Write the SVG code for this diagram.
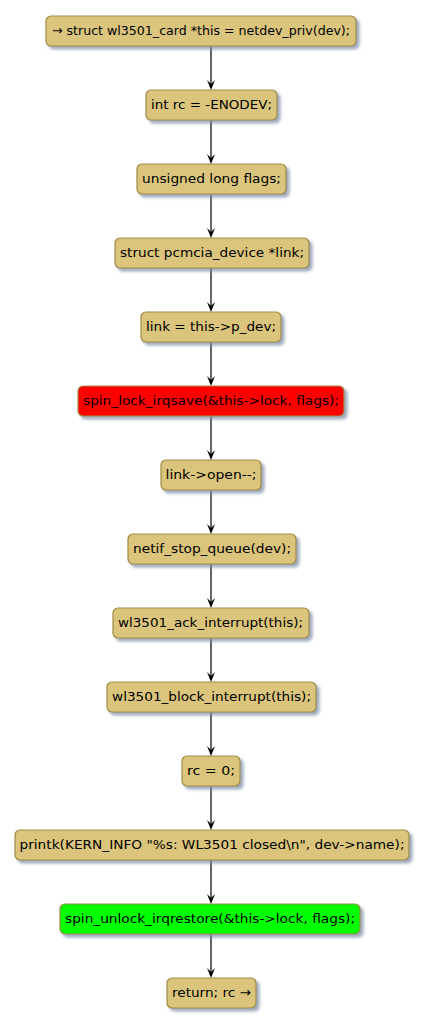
<svg xmlns="http://www.w3.org/2000/svg" width="426" height="1025" viewBox="0 0 426 1025">
<defs>
<filter id="sh" x="-10%" y="-30%" width="130%" height="180%">
<feGaussianBlur in="SourceAlpha" stdDeviation="1.5"/>
<feOffset dx="3" dy="3" result="b"/>
<feFlood flood-color="#7f8fa8" flood-opacity="0.75"/>
<feComposite in2="b" operator="in"/>
<feMerge><feMergeNode/><feMergeNode in="SourceGraphic"/></feMerge>
</filter>
<style>
.n rect{fill:#DBC57C;stroke:#A08B45;stroke-width:1.2;filter:url(#sh)}
.n.red rect{fill:#FF0000}
.n.green rect{fill:#00FF00}
.n text{font-family:"DejaVu Sans",sans-serif;font-size:13px;fill:#000;text-anchor:middle}
.e line{stroke:#000;stroke-width:1.2}
.e polygon{fill:#000}
</style>
</defs>
<rect width="426" height="1025" fill="#fff"/>
<g class="e" id="connectors">
<line x1="211" y1="46" x2="211" y2="88"/><polygon points="207,80 211,90 215,80 211,84"/>
<line x1="211" y1="120" x2="211" y2="162"/><polygon points="207,154 211,164 215,154 211,158"/>
<line x1="211" y1="194" x2="211" y2="236"/><polygon points="207,228 211,238 215,228 211,232"/>
<line x1="211" y1="268" x2="211" y2="310"/><polygon points="207,302 211,312 215,302 211,306"/>
<line x1="211" y1="342" x2="211" y2="384"/><polygon points="207,376 211,386 215,376 211,380"/>
<line x1="211" y1="416" x2="211" y2="458"/><polygon points="207,450 211,460 215,450 211,454"/>
<line x1="211" y1="490" x2="211" y2="532"/><polygon points="207,524 211,534 215,524 211,528"/>
<line x1="211" y1="564" x2="211" y2="606"/><polygon points="207,598 211,608 215,598 211,602"/>
<line x1="211" y1="638" x2="211" y2="680"/><polygon points="207,672 211,682 215,672 211,676"/>
<line x1="211" y1="712" x2="211" y2="754"/><polygon points="207,746 211,756 215,746 211,750"/>
<line x1="211" y1="786" x2="211" y2="828"/><polygon points="207,820 211,830 215,820 211,824"/>
<line x1="211" y1="860" x2="211" y2="902"/><polygon points="207,894 211,904 215,894 211,898"/>
<line x1="211" y1="934" x2="211" y2="976"/><polygon points="207,968 211,978 215,968 211,972"/>
</g>
<g class="n" id="n1"><rect x="46" y="16" width="310" height="30" rx="5"/><text x="201" y="35" textLength="298" lengthAdjust="spacingAndGlyphs">→ struct wl3501_card *this = netdev_priv(dev);</text></g>
<g class="n" id="n2"><rect x="146" y="90" width="131" height="30" rx="5"/><text x="211.5" y="109" textLength="121" lengthAdjust="spacingAndGlyphs">int rc = -ENODEV;</text></g>
<g class="n" id="n3"><rect x="137" y="164" width="149" height="30" rx="5"/><text x="211.5" y="183" textLength="139" lengthAdjust="spacingAndGlyphs">unsigned long flags;</text></g>
<g class="n" id="n4"><rect x="115" y="238" width="194" height="30" rx="5"/><text x="212" y="257" textLength="184" lengthAdjust="spacingAndGlyphs">struct pcmcia_device *link;</text></g>
<g class="n" id="n5"><rect x="141" y="312" width="140" height="30" rx="5"/><text x="211" y="331" textLength="130" lengthAdjust="spacingAndGlyphs">link = this-&gt;p_dev;</text></g>
<g class="n red" id="n6"><rect x="78" y="386" width="266" height="30" rx="5"/><text x="211" y="405" textLength="256" lengthAdjust="spacingAndGlyphs">spin_lock_irqsave(&amp;this-&gt;lock, flags);</text></g>
<g class="n" id="n7"><rect x="161" y="460" width="100" height="30" rx="5"/><text x="211" y="479" textLength="91" lengthAdjust="spacingAndGlyphs">link-&gt;open--;</text></g>
<g class="n" id="n8"><rect x="128" y="534" width="168" height="30" rx="5"/><text x="212" y="553" textLength="158" lengthAdjust="spacingAndGlyphs">netif_stop_queue(dev);</text></g>
<g class="n" id="n9"><rect x="113" y="608" width="196" height="30" rx="5"/><text x="210.5" y="627" textLength="185" lengthAdjust="spacingAndGlyphs">wl3501_ack_interrupt(this);</text></g>
<g class="n" id="n10"><rect x="107" y="682" width="209" height="30" rx="5"/><text x="211.5" y="701" textLength="199" lengthAdjust="spacingAndGlyphs">wl3501_block_interrupt(this);</text></g>
<g class="n" id="n11"><rect x="182" y="756" width="58" height="30" rx="5"/><text x="211" y="775" textLength="48" lengthAdjust="spacingAndGlyphs">rc = 0;</text></g>
<g class="n" id="n12"><rect x="15" y="830" width="394" height="30" rx="5"/><text x="212" y="849" textLength="385" lengthAdjust="spacingAndGlyphs">printk(KERN_INFO "%s: WL3501 closed\n", dev-&gt;name);</text></g>
<g class="n green" id="n13"><rect x="60" y="904" width="300" height="30" rx="5"/><text x="210" y="923" textLength="290" lengthAdjust="spacingAndGlyphs">spin_unlock_irqrestore(&amp;this-&gt;lock, flags);</text></g>
<g class="n" id="n14"><rect x="167" y="978" width="89" height="30" rx="5"/><text x="211.5" y="997" textLength="79" lengthAdjust="spacingAndGlyphs">return; rc →</text></g>
</svg>
